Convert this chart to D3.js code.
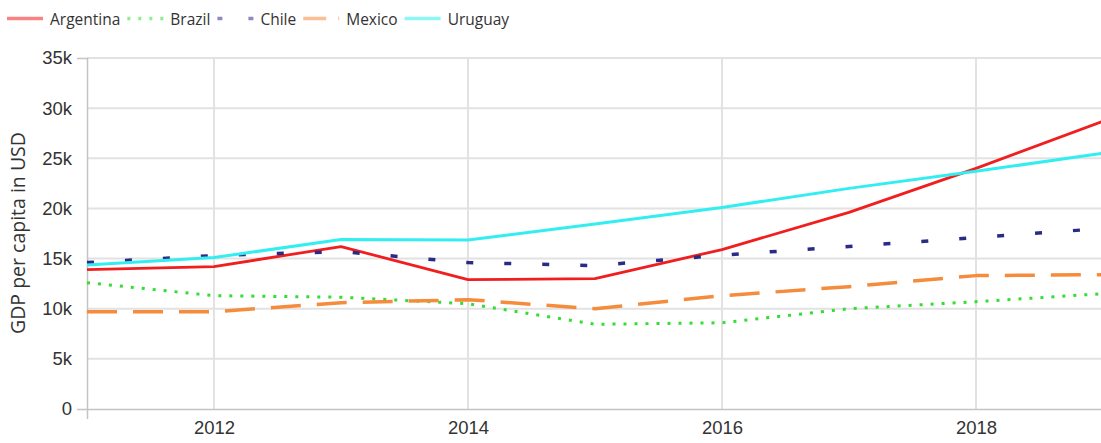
<!DOCTYPE html>
<html>
<head>
<meta charset="utf-8">
<script src="https://cdn.jsdelivr.net/npm/d3@7"></script>
<style>
  body { margin: 0; background: #fff; }
  svg { display: block; font-family: "Open Sans", sans-serif; }
  .tick text { fill: #333; font-size: 18.5px; }
  .grid line { stroke: #e2e2e2; stroke-width: 2px; }
  .legend-label { fill: #333; font-size: 15.5px; }
</style>
</head>
<body>
<div class="chart"></div>
<script>
const years = [2011, 2012, 2013, 2014, 2015, 2016, 2017, 2018, 2019];
const countries = ['Argentina', 'Brazil', 'Chile', 'Mexico', 'Uruguay'];
const argentina = [13900, 14200, 16200, 12900, 13000, 15900, 19600, 24000, 28700];
const brazil    = [12600, 11300, 11150, 10500, 8450, 8600, 10000, 10700, 11500];
const chile     = [14600, 15300, 15700, 14600, 14300, 15350, 16200, 17100, 18000];
const mexico    = [9700, 9700, 10600, 10900, 10000, 11300, 12200, 13300, 13400];
const uruguay   = [14350, 15100, 16900, 16850, 18450, 20100, 22000, 23700, 25500];
const xTicks = [2012, 2014, 2016, 2018];
const yTicks = [0, 5000, 10000, 15000, 20000, 25000, 30000, 35000];

const series = [argentina, brazil, chile, mexico, uruguay];

const width = 1101;
const height = 443;

const svg = d3.select(".chart")
  .append("svg")
    .attr("width", width)
    .attr("height", height);

//scales
const x = d3.scaleLinear()
  .domain([2011, 2019])
  .range([87, 1103]);

const y = d3.scaleLinear()
  .domain([0, 35000])
  .range([409, 58]);

//styles per country
const color = d3.scaleOrdinal()
  .domain(countries)
  .range(['#f01e1e', '#33dd33', '#2b2b85', '#f58c3c', '#33eef0']);
const dash = {
  Argentina: null,
  Brazil: '3,8',
  Chile: '7,31',
  Mexico: '30,16',
  Uruguay: null
};
const legendDash = {
  Argentina: null,
  Brazil: '3,8',
  Chile: '5,26',
  Mexico: '23,12',
  Uruguay: null
};
const strokeW = { Argentina: 2.8, Brazil: 3, Chile: 3.5, Mexico: 3.5, Uruguay: 3 };

//grid
svg.append("g")
  .attr("class", "grid")
  .selectAll("line.h")
  .data(yTicks.slice(1))
  .enter().append("line")
    .attr("x1", x(2011))
    .attr("x2", width)
    .attr("y1", d => y(d))
    .attr("y2", d => y(d));

svg.append("g")
  .attr("class", "grid")
  .selectAll("line.v")
  .data(xTicks)
  .enter().append("line")
    .attr("x1", d => x(d))
    .attr("x2", d => x(d))
    .attr("y1", y(35000))
    .attr("y2", y(0));

//y axis
const yAxis = svg.append("g")
  .attr("transform", `translate(${x(2011)},0)`)
  .call(d3.axisLeft(y)
    .tickValues(yTicks)
    .tickSizeInner(0)
    .tickSizeOuter(10)
    .tickPadding(15)
    .tickFormat(d => d === 0 ? '0' : (d / 1000) + 'k'));
yAxis.select(".domain").attr("stroke", "#c4c4c4").attr("stroke-width", 1.5);
yAxis.selectAll(".tick line").remove();
yAxis.selectAll(".tick text").attr("font-family", null).attr("font-size", null);

//x axis
const xAxis = svg.append("g")
  .attr("transform", `translate(0,${y(0)})`)
  .call(d3.axisBottom(x)
    .tickValues(xTicks)
    .tickSizeInner(0)
    .tickSizeOuter(10)
    .tickPadding(12)
    .tickFormat(d3.format("d")));
xAxis.select(".domain").attr("stroke", "#c4c4c4").attr("stroke-width", 1.5);
xAxis.selectAll(".tick line").remove();
xAxis.selectAll(".tick text").attr("font-family", null).attr("font-size", null);

//y title
svg.append("text")
  .attr("transform", "translate(25,233) rotate(-90)")
  .attr("text-anchor", "middle")
  .attr("fill", "#333")
  .attr("font-size", "19.5px")
  .text("GDP per capita in USD");

//lines
const line = d3.line()
  .x((d, i) => x(years[i]))
  .y(d => y(d));

const plot = svg.append("g");
plot.selectAll("path")
  .data(countries)
  .enter().append("path")
    .attr("d", (c, i) => line(series[i]))
    .attr("fill", "none")
    .attr("stroke", c => color(c))
    .attr("stroke-width", c => strokeW[c])
    .attr("stroke-dasharray", c => dash[c])
    .attr("stroke-linejoin", "round");

//legend
let lx = 7;
countries.forEach(c => {
  svg.append("line")
    .attr("x1", lx).attr("x2", lx + 36)
    .attr("y1", 18.5).attr("y2", 18.5)
    .attr("stroke", color(c))
    .attr("stroke-opacity", 0.55)
    .attr("stroke-width", 3.5)
    .attr("stroke-dasharray", legendDash[c]);
  const t = svg.append("text")
    .attr("class", "legend-label")
    .attr("x", lx + 43)
    .attr("y", 25)
    .text(c);
  lx = lx + 43 + t.node().getComputedTextLength() + 7;
});
</script>
</body>
</html>
